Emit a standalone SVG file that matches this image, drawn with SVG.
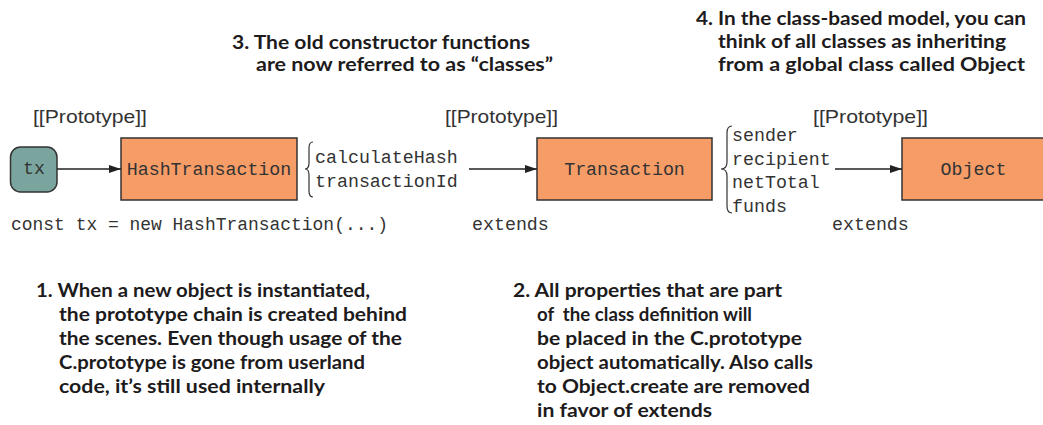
<svg xmlns="http://www.w3.org/2000/svg" width="1043" height="425" viewBox="0 0 1043 425">
<defs>
<style>
.mono{font-family:"Liberation Mono","Courier New",monospace;font-size:18.3px;fill:#333}
.proto{font-family:"Liberation Sans",Arial,sans-serif;font-size:19px;fill:#333}
.note{font-family:Lato,"Liberation Sans",sans-serif;font-weight:bold;font-size:19px;fill:#1d1b1c;white-space:pre}
.box{fill:#F69C67;stroke:#333;stroke-width:1.5}
.tx{fill:#7AA59E;stroke:#333;stroke-width:1.5}
.edge{stroke:#222;stroke-width:1.5;fill:none}
.brace{stroke:#333;stroke-width:1.2;fill:none}
</style>
<marker id="arr" viewBox="0 0 12 8" refX="12" refY="4" markerWidth="12" markerHeight="8" markerUnits="userSpaceOnUse" orient="auto">
<path d="M0,0 L12,4 L0,8 Z" fill="#222"/>
</marker>
</defs>
<rect width="1043" height="425" fill="#fff"/>

<g id="labels-prototype">
<text class="proto" x="33" y="123" textLength="114" lengthAdjust="spacingAndGlyphs">[[Prototype]]</text>
<text class="proto" x="445" y="123" textLength="113" lengthAdjust="spacingAndGlyphs">[[Prototype]]</text>
<text class="proto" x="813" y="123" textLength="115" lengthAdjust="spacingAndGlyphs">[[Prototype]]</text>
</g>

<g id="node-tx">
<rect class="tx" x="10.5" y="147" width="46.5" height="45" rx="10" ry="10"/>
<text class="mono" x="34" y="174" text-anchor="middle">tx</text>
</g>

<g id="node-hashtransaction">
<rect class="box" x="121" y="138" width="176" height="62"/>
<text class="mono" x="209" y="175" text-anchor="middle">HashTransaction</text>
</g>

<g id="node-transaction">
<rect class="box" x="537" y="138" width="175" height="62"/>
<text class="mono" x="624.5" y="175" text-anchor="middle">Transaction</text>
</g>

<g id="node-object">
<rect class="box" x="902" y="138" width="176" height="62"/>
<text class="mono" x="973.5" y="175" text-anchor="middle">Object</text>
</g>

<g id="props-hashtransaction">
<path class="brace" d="M313,142 Q309,142 309,148 L309,163 Q309,169 305,169 Q309,169 309,175 L309,191 Q309,197 313,197"/>
<text class="mono" x="315" y="163">calculateHash</text>
<text class="mono" x="315" y="187">transactionId</text>
</g>

<g id="props-transaction">
<path class="brace" d="M732,126 Q727,126 727,133 L727,162 Q727,169 721,169 Q727,169 727,176 L727,206 Q727,213 732,213"/>
<text class="mono" x="732" y="141">sender</text>
<text class="mono" x="732" y="164.5">recipient</text>
<text class="mono" x="732" y="188">netTotal</text>
<text class="mono" x="732" y="211.5">funds</text>
</g>

<g id="connectors">
<line class="edge" x1="57" y1="169" x2="121" y2="169" marker-end="url(#arr)"/>
<line class="edge" x1="469" y1="169" x2="537" y2="169" marker-end="url(#arr)"/>
<line class="edge" x1="835" y1="169" x2="902" y2="169" marker-end="url(#arr)"/>
</g>

<g id="code-labels">
<text class="mono" x="11" y="230" textLength="377" lengthAdjust="spacingAndGlyphs">const tx = new HashTransaction(...)</text>
<text class="mono" x="472" y="230">extends</text>
<text class="mono" x="832" y="230">extends</text>
</g>

<g id="note-3">
<text class="note" x="232" y="49" textLength="298" lengthAdjust="spacingAndGlyphs">3. The old constructor functions</text>
<text class="note" x="256" y="71" textLength="297" lengthAdjust="spacingAndGlyphs">are now referred to as “classes”</text>
</g>

<g id="note-4">
<text class="note" x="696" y="25" textLength="330" lengthAdjust="spacingAndGlyphs">4. In the class-based model, you can</text>
<text class="note" x="718" y="48" textLength="288" lengthAdjust="spacingAndGlyphs">think of all classes as inheriting</text>
<text class="note" x="718" y="71" textLength="307" lengthAdjust="spacingAndGlyphs">from a global class called Object</text>
</g>

<g id="note-1">
<text class="note" x="36" y="297" textLength="334" lengthAdjust="spacingAndGlyphs">1. When a new object is instantiated,</text>
<text class="note" x="59" y="321" textLength="348" lengthAdjust="spacingAndGlyphs">the prototype chain is created behind</text>
<text class="note" x="59" y="345" textLength="343" lengthAdjust="spacingAndGlyphs">the scenes. Even though usage of the</text>
<text class="note" x="59" y="369" textLength="306" lengthAdjust="spacingAndGlyphs">C.prototype is gone from userland</text>
<text class="note" x="59" y="393" textLength="266" lengthAdjust="spacingAndGlyphs">code, it’s still used internally</text>
</g>

<g id="note-2">
<text class="note" x="513" y="297" textLength="269" lengthAdjust="spacingAndGlyphs">2. All properties that are part</text>
<text class="note" x="537" y="321" textLength="215" lengthAdjust="spacingAndGlyphs">of  the class definition will</text>
<text class="note" x="537" y="345" textLength="265" lengthAdjust="spacingAndGlyphs">be placed in the C.prototype</text>
<text class="note" x="537" y="369" textLength="276" lengthAdjust="spacingAndGlyphs">object automatically. Also calls</text>
<text class="note" x="537" y="393" textLength="273" lengthAdjust="spacingAndGlyphs">to Object.create are removed</text>
<text class="note" x="537" y="417" textLength="175" lengthAdjust="spacingAndGlyphs">in favor of extends</text>
</g>
</svg>
